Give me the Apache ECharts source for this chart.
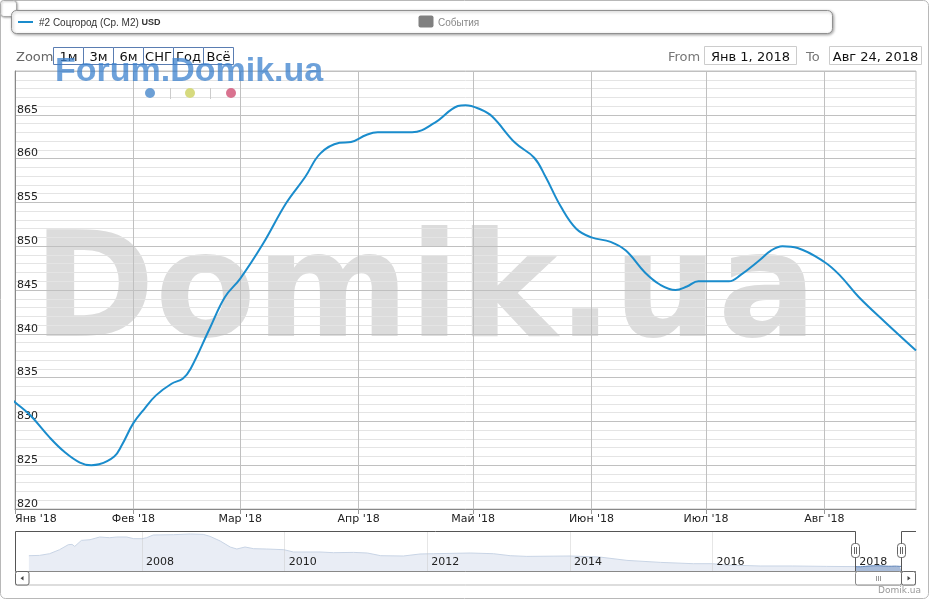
<!DOCTYPE html>
<html><head><meta charset="utf-8">
<script src="https://cdn.jsdelivr.net/npm/echarts@6/dist/echarts.min.js"></script>
<style>html,body{margin:0;padding:0;background:#fff}#c{width:931px;height:600px}</style>
</head><body><div id="c"></div>
<script>
// ---- main series (2018, USD per m2) ----
const mainDates = ['2017-12-30','2018-01-01','2018-01-05','2018-01-10','2018-01-14','2018-01-18','2018-01-21','2018-01-23','2018-01-27','2018-01-29','2018-02-01','2018-02-04','2018-02-07','2018-02-11','2018-02-14','2018-02-16','2018-02-21','2018-02-25','2018-03-01','2018-03-07','2018-03-13','2018-03-18','2018-03-22','2018-03-27','2018-03-30','2018-04-03','2018-04-06','2018-04-15','2018-04-21','2018-04-27','2018-04-29','2018-05-03','2018-05-06','2018-05-12','2018-05-17','2018-05-20','2018-05-24','2018-05-28','2018-06-01','2018-06-06','2018-06-10','2018-06-15','2018-06-19','2018-06-23','2018-06-26','2018-06-29','2018-07-07','2018-07-10','2018-07-15','2018-07-18','2018-07-21','2018-07-25','2018-08-01','2018-08-05','2018-08-10','2018-08-17','2018-08-25'];
const mainValues = [833.0,832.2,830.7,828.2,826.5,825.3,825.0,825.1,826.0,827.3,829.8,831.5,833.0,834.3,834.9,836.0,840.6,844.2,846.3,850.3,854.9,857.9,860.6,861.8,861.9,862.7,863.0,863.0,864.1,866.0,866.1,865.6,864.8,861.8,860.1,857.9,854.5,852.0,851.0,850.5,849.5,847.0,845.6,845.0,845.4,846.0,846.0,846.7,848.4,849.5,850.0,849.8,848.2,846.7,844.2,841.3,838.1];

// ---- navigator history ----
const navDates = ['2006-06-01','2006-07-25','2006-09-15','2006-11-05','2006-12-20','2007-01-08','2007-01-22','2007-02-25','2007-04-10','2007-05-30','2007-07-20','2007-08-25','2007-10-15','2007-11-20','2008-01-01','2008-01-25','2008-02-28','2008-06-10','2008-09-05','2008-11-10','2008-12-15','2009-02-05','2009-03-28','2009-05-01','2009-06-12','2009-07-26','2009-10-01','2009-12-28','2010-02-15','2010-07-01','2010-09-08','2010-12-20','2011-03-01','2011-05-08','2011-09-01','2011-11-25','2012-02-01','2012-08-08','2012-12-05','2013-03-01','2013-05-25','2014-01-01','2014-06-01','2014-10-20','2015-04-10','2015-09-25','2016-01-01','2016-03-15','2016-09-01','2017-02-15','2017-08-08','2017-12-31'];
const navValues = [1241,1252,1316,1466,1654,1665,1590,1815,1841,1942,1916,1942,1942,1879,1879,1916,2018,2029,2055,2040,1965,1792,1567,1492,1567,1504,1492,1466,1380,1380,1354,1365,1342,1241,1230,1305,1316,1342,1316,1241,1215,1230,1192,1065,990,941,941,892,855,855,840,832];

// ---- ticks / labels / texts ----
const monthTicks = ['2018-01-01','2018-02-01','2018-03-01','2018-04-01','2018-05-01','2018-06-01','2018-07-01','2018-08-01'];
const monthLabels = ['Янв','Фев','Мар','Апр','Май','Июн','Июл','Авг'];
const yearTicks = ['2008-01-01','2010-01-01','2012-01-01','2014-01-01','2016-01-01','2018-01-01'];
const zoomButtons = ['1м','3м','6м','СНГ','Год','Всё'];
const seriesName = '#2 Соцгород (Ср. М2)';
const seriesUnit = 'USD';
const eventsName = 'События';
const rangeFromText = 'Янв 1, 2018', rangeToText = 'Авг 24, 2018';
const rangeStart = '2018-01-01', rangeEnd = '2018-08-24';

const ts = s => { const p = s.split('-').map(Number); return new Date(p[0], p[1] - 1, p[2]).getTime(); };
const FONT = '"DejaVu Sans", sans-serif';
const LINE = '#1a8ccc';

const option = {
  animation: false,
  grid: [
    {left: 15, right: 15, top: 71, bottom: 91, show: true, borderColor: '#c0c0c0', borderWidth: 1, backgroundColor: 'transparent'},
    {left: 15, right: 15, top: 531, height: 40, show: false}
  ],
  xAxis: [
    {type: 'value', gridIndex: 0, min: ts('2018-01-01'), max: ts('2018-08-25'),
     axisLine: {show: true, lineStyle: {color: '#888'}},
     axisTick: {show: true, length: 5, lineStyle: {color: '#999'}, customValues: monthTicks.map(ts)},
     axisLabel: {customValues: monthTicks.map(ts), color: '#222', fontFamily: FONT, fontSize: 11, margin: 5,
       alignMinLabel: 'left', hideOverlap: false,
       formatter: v => monthLabels[new Date(v).getMonth()] + " '18"},
     splitLine: {show: true, lineStyle: {color: '#c0c0c0'}}
    },
    {type: 'value', gridIndex: 1, z: 5, min: ts('2006-03-22'), max: ts('2018-11-08'),
     axisLine: {show: false}, axisTick: {show: false, customValues: yearTicks.map(ts)},
     axisLabel: {customValues: yearTicks.map(ts), inside: true, margin: 3, align: 'left', verticalAlign: 'bottom',
       padding: [0, 0, 0, 4], color: '#222', fontFamily: FONT, fontSize: 11,
       formatter: v => String(new Date(v).getFullYear())},
     splitLine: {show: true, lineStyle: {color: 'rgba(200,200,200,0.45)'}}
    }
  ],
  yAxis: [
    {type: 'value', gridIndex: 0, min: 820, max: 870, interval: 5,
     axisLine: {show: true, lineStyle: {color: '#888'}},
     axisTick: {show: false},
     axisLabel: {inside: true, margin: 2, verticalAlign: 'bottom', lineHeight: 10, color: '#222', fontFamily: FONT, fontSize: 11,
       showMaxLabel: false},
     splitLine: {show: true, lineStyle: {color: '#c0c0c0'}},
     minorTick: {show: false, splitNumber: 5},
     minorSplitLine: {show: true, lineStyle: {color: '#e4e4e4'}}
    },
    {type: 'value', gridIndex: 1, min: 667, max: 2167, show: false, splitLine: {show: false}}
  ],
  series: [
    {type: 'line', name: seriesName, xAxisIndex: 0, yAxisIndex: 0, clip: false, smooth: 0.4,
     showSymbol: false, symbol: 'none', lineStyle: {color: LINE, width: 2}, z: 5,
     data: mainDates.map((d, i) => [ts(d), mainValues[i]])},
    {type: 'line', xAxisIndex: 1, yAxisIndex: 1, symbol: 'none', silent: true, z: 2,
     lineStyle: {color: '#c8d4e5', width: 1}, areaStyle: {color: '#e9edf5', opacity: 1},
     data: navDates.map((d, i) => [ts(d), navValues[i]])},
    {type: 'line', xAxisIndex: 1, yAxisIndex: 1, symbol: 'none', silent: true, z: 2,
     lineStyle: {color: '#5f84b8', width: 1}, areaStyle: {color: '#a9bcd9', opacity: 1},
     data: mainDates.slice(1).map((d, i) => [ts(d), mainValues[i + 1]])}
  ]
};

const chart = echarts.init(document.getElementById('c'));
chart.setOption(option);

// ---- chrome (legend, range selector, watermarks, navigator frame) ----
const sx0 = Math.round(chart.convertToPixel({xAxisIndex: 1}, ts(rangeStart))) + 0.5;
const sx1 = Math.round(chart.convertToPixel({xAxisIndex: 1}, ts(rangeEnd))) + 0.5;
const navTop = 531.5, navBot = 571.5;
const TY = 57.5;
const g = [];
g.push({type: 'text', z: -10, silent: true, style: {text: 'Domik.ua', x: 33, y: 298, font: 'bold 147px "DejaVu Sans"', fill: '#dcdcdc', textVerticalAlign: 'middle', verticalAlign: 'middle'}});
g.push({type: 'rect', z: 50, silent: true, shape: {x: 0.5, y: 0.5, width: 928, height: 598, r: 5}, style: {fill: 'none', stroke: '#b8b8b8', lineWidth: 1}});
g.push({type: 'rect', z: 50, silent: true, shape: {x: 0.5, y: 0.5, width: 16, height: 16, r: 3}, style: {fill: '#fff', stroke: '#aaa', lineWidth: 1, shadowBlur: 2, shadowColor: 'rgba(0,0,0,0.25)', shadowOffsetX: 1, shadowOffsetY: 1}});
g.push({type: 'rect', z: 50, silent: true, shape: {x: 11.5, y: 10.5, width: 821, height: 23, r: 5}, style: {fill: '#fff', stroke: '#909090', lineWidth: 1, shadowBlur: 3, shadowColor: 'rgba(0,0,0,0.35)', shadowOffsetX: 1, shadowOffsetY: 1}});
g.push({type: 'line', z: 51, silent: true, shape: {x1: 18, y1: 22, x2: 33, y2: 22}, style: {stroke: LINE, lineWidth: 2}});
g.push({type: 'text', z: 51, silent: true, style: {text: '{a|' + seriesName + ' }{b|' + seriesUnit + '}', x: 39, y: 23, textVerticalAlign: 'middle', verticalAlign: 'middle',
  rich: {a: {fontFamily: '"Liberation Sans", Arial', fontSize: 10, fill: '#333', color: '#333'}, b: {fontFamily: '"Liberation Sans", Arial', fontSize: 9, fontWeight: 'bold', fill: '#333', color: '#333'}}}});
g.push({type: 'rect', z: 51, silent: true, shape: {x: 418.5, y: 15.5, width: 15, height: 12, r: 2}, style: {fill: '#808080', stroke: 'none'}});
g.push({type: 'text', z: 51, silent: true, style: {text: eventsName, x: 438, y: 23, font: '10px "Liberation Sans", Arial', fill: '#888', textVerticalAlign: 'middle', verticalAlign: 'middle'}});
g.push({type: 'text', z: 50, silent: true, style: {text: 'Zoom', x: 16, y: TY, font: '13px ' + FONT, fill: '#666', textVerticalAlign: 'middle', verticalAlign: 'middle'}});
zoomButtons.forEach((b, i) => {
  g.push({type: 'rect', z: 50, silent: true, shape: {x: 53.5 + 30 * i, y: 47.5, width: 30, height: 17}, style: {fill: '#fff', stroke: '#5a7db2', lineWidth: 1}});
  g.push({type: 'text', z: 51, silent: true, style: {text: b, x: 68.5 + 30 * i, y: TY, font: '13px ' + FONT, fill: '#111', textAlign: 'center', align: 'center', textVerticalAlign: 'middle', verticalAlign: 'middle'}});
});
g.push({type: 'text', z: 50, silent: true, style: {text: 'From', x: 668, y: TY, font: '13px ' + FONT, fill: '#777', textVerticalAlign: 'middle', verticalAlign: 'middle'}});
g.push({type: 'rect', z: 50, silent: true, shape: {x: 704.5, y: 46.5, width: 92, height: 18}, style: {fill: '#fff', stroke: '#ccc', lineWidth: 1}});
g.push({type: 'text', z: 51, silent: true, style: {text: rangeFromText, x: 750.5, y: TY, font: '13px ' + FONT, fill: '#111', textAlign: 'center', align: 'center', textVerticalAlign: 'middle', verticalAlign: 'middle'}});
g.push({type: 'text', z: 50, silent: true, style: {text: 'To', x: 806, y: TY, font: '13px ' + FONT, fill: '#777', textVerticalAlign: 'middle', verticalAlign: 'middle'}});
g.push({type: 'rect', z: 50, silent: true, shape: {x: 829.5, y: 46.5, width: 92, height: 18}, style: {fill: '#fff', stroke: '#ccc', lineWidth: 1}});
g.push({type: 'text', z: 51, silent: true, style: {text: rangeToText, x: 875.5, y: TY, font: '13px ' + FONT, fill: '#111', textAlign: 'center', align: 'center', textVerticalAlign: 'middle', verticalAlign: 'middle'}});
g.push({type: 'text', z: 60, silent: true, style: {text: 'Forum.Domik.ua', x: 55, y: 72, font: 'bold 34px "Liberation Sans", Arial', fill: 'rgba(60,130,205,0.75)', textVerticalAlign: 'middle', verticalAlign: 'middle'}});
[['#6c9fd5', 150], ['#d6da7e', 190], ['#d9728f', 231]].forEach(([c, x]) => g.push({type: 'circle', z: 60, silent: true, shape: {cx: x, cy: 93, r: 5}, style: {fill: c}}));
[170.5, 210.5].forEach(x => g.push({type: 'line', z: 60, silent: true, shape: {x1: x, y1: 88, x2: x, y2: 99}, style: {stroke: '#ccc', lineWidth: 1}}));
const navStroke = {stroke: '#555', lineWidth: 1};
g.push({type: 'polyline', z: 55, silent: true, shape: {points: [[15.5, navBot], [15.5, navTop], [sx0, navTop], [sx0, navBot]]}, style: Object.assign({fill: 'none'}, navStroke)});
g.push({type: 'polyline', z: 55, silent: true, shape: {points: [[sx1, navBot], [sx1, navTop], [916, navTop]]}, style: Object.assign({fill: 'none'}, navStroke)});
g.push({type: 'rect', z: 55, silent: true, shape: {x: 15.5, y: 571.5, width: 900, height: 13.5}, style: {fill: '#fff', stroke: '#bbb', lineWidth: 1}});
g.push({type: 'line', z: 56, silent: true, shape: {x1: 15, y1: navBot, x2: 916, y2: navBot}, style: {stroke: '#888', lineWidth: 1}});
g.push({type: 'rect', z: 57, silent: true, shape: {x: sx0, y: 571.5, width: sx1 - sx0, height: 13.5, r: 2}, style: {fill: '#fff', stroke: '#888', lineWidth: 1}});
[-2, 0, 2].forEach(d => g.push({type: 'line', z: 58, silent: true, shape: {x1: (sx0 + sx1) / 2 + d, y1: 576, x2: (sx0 + sx1) / 2 + d, y2: 581}, style: {stroke: '#999', lineWidth: 1}}));
g.push({type: 'rect', z: 57, silent: true, shape: {x: 15.5, y: 571.5, width: 13.5, height: 13.5, r: 2}, style: {fill: '#fff', stroke: '#666', lineWidth: 1}});
g.push({type: 'polygon', z: 58, silent: true, shape: {points: [[20.5, 578.3], [23.5, 576], [23.5, 580.6]]}, style: {fill: '#444'}});
g.push({type: 'rect', z: 57, silent: true, shape: {x: sx1, y: 571.5, width: 915.5 - sx1, height: 13.5, r: 2}, style: {fill: '#fff', stroke: '#666', lineWidth: 1}});
g.push({type: 'polygon', z: 58, silent: true, shape: {points: [[sx1 + 9, 578.3], [sx1 + 6, 576], [sx1 + 6, 580.6]]}, style: {fill: '#444'}});
[sx0, sx1].forEach(x => {
  g.push({type: 'rect', z: 59, silent: true, shape: {x: x - 4, y: 543.5, width: 8, height: 14, r: 3}, style: {fill: '#fff', stroke: '#666', lineWidth: 1}});
  [-1, 1].forEach(d => g.push({type: 'line', z: 60, silent: true, shape: {x1: x + d, y1: 547, x2: x + d, y2: 554}, style: {stroke: '#666', lineWidth: 1}}));
});
g.push({type: 'text', z: 50, silent: true, style: {text: 'Domik.ua', x: 921, y: 591, font: '9px ' + FONT, fill: '#999', textAlign: 'right', align: 'right', textVerticalAlign: 'middle', verticalAlign: 'middle'}});

chart.setOption({graphic: g});
</script></body></html>
